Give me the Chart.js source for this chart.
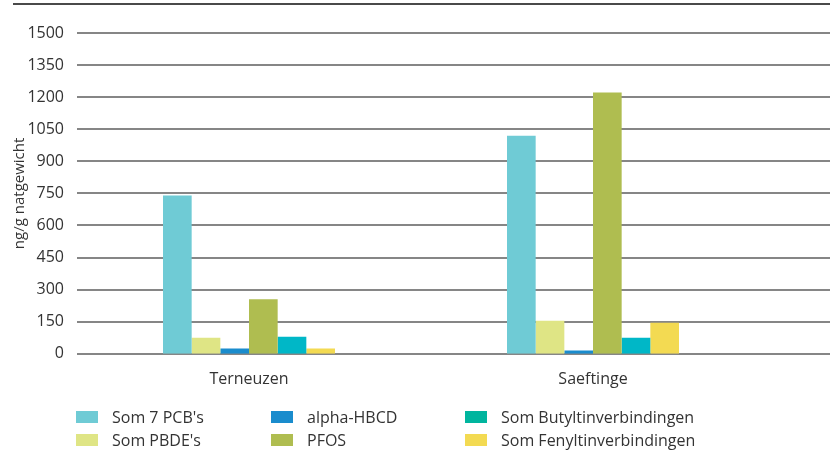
<!DOCTYPE html>
<html>
<head>
<meta charset="utf-8">
<script src="https://cdn.jsdelivr.net/npm/chart.js@4"></script>
<style>
  html, body { margin: 0; padding: 0; background: #fff; }
  #wrap { width: 830px; height: 450px; position: relative; }
</style>
</head>
<body>
<div id="wrap"><canvas id="grafiek"></canvas></div>
<script>
// locaties en meetwaarden (ng/g natgewicht)
const locaties = ['Terneuzen', 'Saeftinge']
const yTicks = [0, 150, 300, 450, 600, 750, 900, 1050, 1200, 1350, 1500]

const pcb = [740, 1020]
const pbde = [75, 155]
const hbcd = [25, 15]
const pfos = [255, 1222]
const butyltin = [80, 75]
const fenyltin = [25, 145]

const lettertype = "'Open Sans', 'Noto Sans', sans-serif"

// legenda in kolommen, zoals in het origineel
const legendaPlugin = {
    id: 'legendaKolommen',
    afterDraw(chart) {
        const ctx = chart.ctx
        const kolomX = [76, 271, 465]
        const rijY = [417, 440]
        ctx.save()
        ctx.font = '16px ' + lettertype
        ctx.textBaseline = 'middle'
        chart.data.datasets.forEach((ds, i) => {
            const x = kolomX[Math.floor(i / 2)]
            const y = rijY[i % 2]
            ctx.fillStyle = ds.legendColor || ds.backgroundColor
            ctx.fillRect(x, y - 6, 22, 12)
            ctx.fillStyle = '#333'
            ctx.fillText(ds.label, x + 36, y + 1)
        })
        ctx.restore()
    }
}

// horizontale rasterlijnen doorgetrokken tot de rand + lijn bovenaan
const rasterPlugin = {
    id: 'raster',
    beforeDatasetsDraw(chart) {
        const ctx = chart.ctx
        const y = chart.scales.y
        ctx.save()
        ctx.strokeStyle = '#868686'
        ctx.lineWidth = 2
        y.ticks.forEach(t => {
            const py = Math.round(y.getPixelForValue(t.value))
            ctx.beginPath()
            ctx.moveTo(chart.chartArea.left, py)
            ctx.lineTo(chart.width, py)
            ctx.stroke()
        })
        ctx.strokeStyle = '#4a4a4a'
        ctx.beginPath()
        ctx.moveTo(13, 4)
        ctx.lineTo(chart.width, 4)
        ctx.stroke()
        ctx.restore()
    }
}

new Chart(document.getElementById('grafiek'), {
    type: 'bar',
    data: {
        labels: locaties,
        datasets: [
            { label: "Som 7 PCB's", data: pcb, backgroundColor: '#6fcbd5' },
            { label: "Som PBDE's", data: pbde, backgroundColor: '#dfe585' },
            { label: 'alpha-HBCD', data: hbcd, backgroundColor: '#1a8ccd' },
            { label: 'PFOS', data: pfos, backgroundColor: '#afbd50' },
            { label: 'Som Butyltinverbindingen', data: butyltin, backgroundColor: '#00b7c7', legendColor: '#00b59e' },
            { label: 'Som Fenyltinverbindingen', data: fenyltin, backgroundColor: '#f3da52' }
        ]
    },
    options: {
        responsive: true,
        maintainAspectRatio: false,
        animation: false,
        layout: { padding: { top: 33, right: 65, bottom: 53, left: 11 } },
        datasets: { bar: { categoryPercentage: 0.5, barPercentage: 1.0 } },
        plugins: {
            legend: { display: false },
            tooltip: { enabled: false }
        },
        scales: {
            x: {
                grid: { display: false },
                border: { display: false },
                ticks: { color: '#333', font: { family: lettertype, size: 16 }, padding: 8 }
            },
            y: {
                min: 0,
                max: 1500,
                afterBuildTicks: (axis) => { axis.ticks = yTicks.map(v => ({ value: v })) },
                afterFit: (axis) => { axis.width = 66 },
                grid: { display: false },
                border: { display: false },
                ticks: {
                    color: '#333',
                    font: { family: lettertype, size: 16 },
                    padding: 5,
                    callback: (v) => String(v)
                },
                title: {
                    display: true,
                    text: 'ng/g natgewicht',
                    color: '#333',
                    font: { family: lettertype, size: 15 },
                    padding: { top: 0, bottom: 2 }
                }
            }
        }
    },
    plugins: [rasterPlugin, legendaPlugin]
})
</script>
</body>
</html>
